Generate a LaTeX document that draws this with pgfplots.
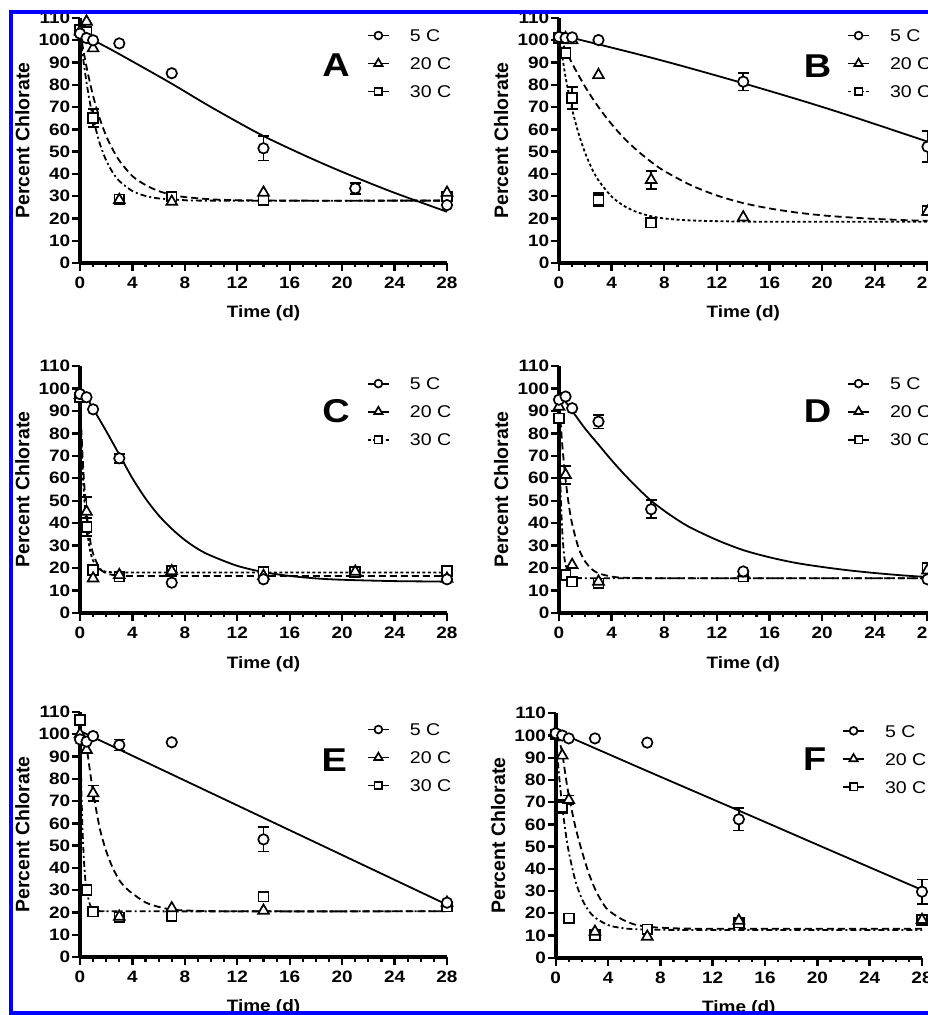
\documentclass[border=0pt]{standalone}
\usepackage{pgfplots}
\pgfplotsset{compat=1.18}
\usepackage{fontspec}
\setmainfont{Liberation Sans}
\newfontfamily\wide[FakeStretch=1.15]{Liberation Sans}
\definecolor{frameblue}{RGB}{0,0,255}

\newcommand\tickfont{\wide\bfseries\fontsize{16.5}{16.5}\selectfont}
\newcommand\xlabfont{\wide\bfseries\fontsize{16.5}{16.5}\selectfont}
\newcommand\ylabfont{\bfseries\fontsize{19.5}{19.5}\selectfont}
\newcommand\legfont{\wide\fontsize{17}{17}\selectfont}
\newcommand\letfont{\wide\bfseries\fontsize{33}{33}\selectfont}

\tikzset{
  c5/.style={black, line width=1.8pt, solid},
  c20/.style={black, line width=1.8pt, dash pattern=on 7pt off 4pt},
  c30dd/.style={black, line width=1.8pt, dash pattern=on 6pt off 3pt on 2pt off 3pt},
  c30dot/.style={black, line width=1.8pt, dash pattern=on 3pt off 2.5pt},
  mopt/.style={solid, line width=1.7pt, fill=white, draw=black},
  l5/.style={mark=*, mark size=5.2pt, mark options={mopt}},
  l20/.style={mark=triangle*, mark size=6.2pt, mark options={mopt}},
  l30/.style={mark=square*, mark size=4.9pt, mark options={mopt}},
  g5/.style={mark=*, mark size=3.9pt, mark options={mopt}},
  g20/.style={mark=triangle*, mark size=4.8pt, mark options={mopt}},
  g30/.style={mark=square*, mark size=3.8pt, mark options={mopt}},
}

\pgfplotsset{
  panel/.style={
    scale only axis, anchor=south west,
    xmin=0, xmax=28, ymin=0, ymax=110,
    axis lines=left, axis line style={line width=3.6pt, -},
    xtick={0,4,...,28}, minor xtick={1,...,27}, ytick={0,10,...,110},
    tick align=outside, major tick length=8pt, minor tick length=4.5pt,
    every major tick/.append style={line width=2.4pt, black},
    every minor tick/.append style={line width=2.2pt, black},
    /pgf/number format/assume math mode=true,
    tick label style={font=\tickfont},
    yticklabel style={inner xsep=1.5pt},
    xticklabel style={inner ysep=6pt},
    xlabel={Time (d)}, ylabel={Percent Chlorate},
    xlabel style={font=\xlabfont, at={(axis description cs:0.5,-0.207)}, anchor=center},
    ylabel style={font=\ylabfont, at={(axis description cs:-0.157,0.5)}, anchor=center},
    clip=false,
    legend cell align=left,
    legend style={draw=none, fill=none, inner sep=0pt, outer sep=0pt, font=\legfont,
      at={(axis description cs:0.782,0.958)}, anchor=north west,
      row sep=13.5pt, column sep=0pt,
      nodes={inner sep=1pt, text height=12.5pt, text depth=0pt}},
    legend image code/.code={
      \draw[##1, mark=none] (0pt,0pt) -- (10.5pt,0pt);
      \draw[##1, mark=none] (21pt,0pt) -- (10.5pt,0pt);
      \draw[##1] plot coordinates {(10.5pt,0pt)};
      \path[draw=none, fill=none] (0pt,0pt) -- (41pt,0pt);
    },
  },
  fit/.style={forget plot, smooth, tension=0.5},
  m5/.style={forget plot, only marks, l5},
  m20/.style={forget plot, only marks, l20},
  m30/.style={forget plot, only marks, l30},
  eb/.style={forget plot, only marks, mark=none, black,
    error bars/.cd, y dir=both, y explicit,
    error bar style={line width=1.7pt, black, solid},
    error mark options={rotate=90, line width=1.7pt, mark size=5.5pt, black, solid}},
}

\newcommand\leg[1]{%
  \addlegendimage{c5, g5}\addlegendentry{5 C}
  \addlegendimage{c20, g20}\addlegendentry{20 C}
  \addlegendimage{#1, g30}\addlegendentry{30 C}}

\begin{document}
\begin{tikzpicture}[x=1pt, y=1pt]
\useasboundingbox (0,0) rectangle (928,1015);
\begin{scope}
\clip (13,4) rectangle (935,1001);

% A
\begin{axis}[panel, at={(80pt,752pt)}, width=367pt, height=245pt]
\addplot[c20, fit] coordinates {(0,104) (0.5,88) (1,75) (1.5,65) (2,57) (2.5,51) (3,46) (4,39) (5,35) (6,32.3) (7,30.6) (8,29.6) (10,28.6) (12,28.2) (16,28) (28,28)};
\addplot[c30dd, fit] coordinates {(0,104) (0.25,91.5) (0.5,81) (0.75,72.3) (1,65) (1.5,53.8) (2,46) (2.5,40.6) (3,36.8) (4,32.3) (5,30.1) (6,29) (8,28.2) (10,28) (28,28)};
\addplot[c5, fit] coordinates {(0,103) (2,97) (4,90.5) (7,80.5) (10,70) (14,57) (18,46) (21,38.5) (24,31.5) (28,23)};
\addplot[eb] coordinates {(14,51.5) +- (0,5.5) (21,33.5) +- (0,2.5) (1,65) +- (0,4)};
\addplot[m30] coordinates {(0,104.6) (0.5,103.9) (1,65) (3,28.5) (7,29.8) (14,28.3) (28,29.8)};
\addplot[m20] coordinates {(0,104) (0.5,108.4) (1,96.4) (3,28.3) (7,27.5) (14,31.6) (28,31.6)};
\addplot[m5] coordinates {(0,103) (0.5,101) (1,100) (3,98.6) (7,85.2) (14,51.5) (21,33.5) (28,26)};
\leg{c30dd}
\node[font=\letfont, inner sep=0pt] at (axis description cs:0.698,0.808) {A};
\end{axis}

% B
\begin{axis}[panel, at={(559pt,752pt)}, width=368.5pt, height=245pt]
\addplot[c20, fit] coordinates {(0,102) (1,89.6) (2,79) (3,70) (4,62.3) (5,55.7) (6,50.2) (7,45.4) (8,41.3) (10,35) (12,30.3) (14,26.9) (16,24.5) (18,22.7) (20,21.4) (22,20.5) (24,19.8) (26,19.3) (28,18.9)};
\addplot[c30dot, fit] coordinates {(0,102) (0.5,83.5) (1,69) (1.5,57.9) (2,49.2) (2.5,42.4) (3,37.1) (4,29.8) (5,25.4) (6,22.7) (7,21) (8,20) (10,19.1) (14,18.6) (20,18.5) (28,18.5)};
\addplot[c5, fit] coordinates {(0,102.5) (4,96.7) (7,92.2) (10,87.4) (14,80.7) (18,73.7) (21,68.2) (24,62.4) (28,54.5)};
\addplot[eb] coordinates {(14,81.4) +- (0,4) (28,52.2) +- (0,7) (7,37.3) +- (0,4) (1,74) +- (0,5) (3,28.3) +- (0,3)};
\addplot[m30] coordinates {(0,101) (0.5,94.2) (1,74) (3,28.3) (7,18.1) (28,23.5)};
\addplot[m20] coordinates {(0,102) (0.5,101) (1,100) (3,84.4) (7,37.3) (14,20.5) (28,23)};
\addplot[m5] coordinates {(0,101.5) (0.5,101) (1,101.3) (3,100.1) (14,81.4) (28,52.2)};
\leg{c30dot}
\node[font=\letfont, inner sep=0pt] at (axis description cs:0.702,0.804) {B};
\end{axis}

% C
\begin{axis}[panel, at={(80pt,402pt)}, width=367pt, height=247pt]
\addplot[c20, fit] coordinates {(0,97) (0.1,81.8) (0.2,69.4) (0.3,59.4) (0.4,51.3) (0.5,44.7) (0.75,33.2) (1,26.4) (1.5,19.9) (2,17.7) (3,16.6) (5,16.5) (28,16.5)};
\addplot[c30dot, fit] coordinates {(0,97) (0.1,78.3) (0.2,64) (0.3,53.1) (0.4,44.8) (0.5,38.5) (0.75,28.4) (1,23.3) (1.5,19.4) (2,18.4) (3,18) (5,18) (28,18)};
\addplot[c5, fit] coordinates {(0,98) (0.5,96) (1,91) (2,81) (3,70.5) (4,60) (5,51) (6,43.5) (7,37.5) (8,32.5) (9,28.5) (10,25.5) (12,21) (14,18.2) (16,16.5) (18,15.4) (20,14.8) (24,14.2) (28,14)};
\addplot[eb] coordinates {(3,68.9) +- (0,2) (0.5,45.1) +- (0,6.5) (0.5,38.4) +- (0,4)};
\addplot[m30] coordinates {(0,96) (0.5,38.4) (1,19.2) (3,16.2) (7,18.8) (14,18.2) (21,18.2) (28,18.8)};
\addplot[m20] coordinates {(0,97) (0.5,45.1) (1,15.4) (3,16.9) (7,18.6) (14,16.5) (21,18.4) (28,15.3)};
\addplot[m5] coordinates {(0,97.5) (0.5,96.1) (1,90.7) (3,68.9) (7,13.5) (14,15) (28,15)};
\leg{c30dot}
\node[font=\letfont, inner sep=0pt] at (axis description cs:0.698,0.816) {C};
\end{axis}

% D
\begin{axis}[panel, at={(559pt,402pt)}, width=368.5pt, height=247pt]
\addplot[c20, fit] coordinates {(0,95.5) (0.25,74.8) (0.5,59.4) (0.75,48) (1,39.6) (1.5,28.7) (2,22.8) (2.5,19.5) (3,17.7) (4,16.2) (5,15.7) (8,15.5) (28,15.5)};
\addplot[c30dd, fit] coordinates {(0,87.5) (0.1,59.2) (0.2,42) (0.3,31.6) (0.4,25.2) (0.5,21.4) (0.75,17.2) (1,16) (1.5,15.6) (4,15.5) (28,15.5)};
\addplot[c5, fit] coordinates {(0,97) (0.5,94) (1,90) (2,82) (3,75) (4,68) (5,61.5) (6,55.5) (7,50) (8,45.5) (9,41.5) (10,38) (12,32.5) (14,28) (16,24.8) (18,22.3) (20,20.5) (22,19) (24,17.8) (26,16.8) (28,16)};
\addplot[eb] coordinates {(3,85.2) +- (0,3) (7,46.2) +- (0,4) (0.5,61.5) +- (0,4)};
\addplot[m30] coordinates {(0,86.7) (0.5,17) (1,14) (3,13.2) (14,16.2) (28,20)};
\addplot[m20] coordinates {(0,91.9) (0.5,61.5) (1,21.4) (3,14) (14,17.6) (28,19)};
\addplot[m5] coordinates {(0,95) (0.5,96.4) (1,91.2) (3,85.2) (7,46.2) (14,18.5) (28,15)};
\leg{c30dd}
\node[font=\letfont, inner sep=0pt] at (axis description cs:0.702,0.816) {D};
\end{axis}

% E
\begin{axis}[panel, at={(80pt,58pt)}, width=367pt, height=245pt]
\addplot[c20, fit] coordinates {(0,101) (0.25,98.5) (0.5,94) (0.75,84) (1,74) (1.5,58) (2,47.5) (2.5,40) (3,34.5) (3.5,31) (4,28.5) (5,24.5) (6,22.5) (7,21.3) (8,20.9) (10,20.6) (14,20.5) (28,20.5)};
\addplot[c30dd, fit] coordinates {(0,106) (0.1,75.9) (0.2,56.2) (0.3,43.5) (0.4,35.3) (0.5,30) (0.75,23.7) (1,21.6) (1.5,20.6) (4,20.5) (28,20.5)};
\addplot[c5, fit] coordinates {(0,101.5) (7,82) (14,62.5) (21,43) (28,23.5)};
\addplot[eb] coordinates {(3,95.2) +- (0,2.5) (14,52.8) +- (0,5.5) (1,73.5) +- (0,3.5) (0.5,30.1) +- (0,2.5) (14,27.1) +- (0,2)};
\addplot[m30] coordinates {(0,106.4) (0.5,30.1) (1,20.4) (3,17.8) (7,18.4) (14,27.1) (28,22.6)};
\addplot[m20] coordinates {(0,100) (0.5,93) (1,73.5) (3,18.1) (7,21.9) (14,20.8) (28,24.4)};
\addplot[m5] coordinates {(0,97.7) (0.5,96.7) (1,99.2) (3,95.2) (7,96.4) (14,52.8) (28,24.4)};
\leg{c30dd}
\node[font=\letfont, inner sep=0pt] at (axis description cs:0.693,0.804) {E};
\end{axis}

% F
\begin{axis}[panel, at={(555.7pt,57.3pt)}, width=366.3pt, height=244.4pt]
\addplot[c20, fit] coordinates {(0,100) (0.25,98) (0.5,92) (0.75,82) (1,73) (1.5,59) (2,48) (2.5,38.5) (3,31) (3.5,25.5) (4,21.5) (5,17.5) (6,15) (7,14) (8,13.5) (10,13.1) (14,13) (28,13)};
\addplot[c30dd, fit] coordinates {(0,100.5) (0.25,82.5) (0.5,68) (0.75,56.7) (1,47.6) (1.5,34.7) (2,26.5) (2.5,21.3) (3,18.1) (4,14.7) (5,13.4) (6,12.85) (8,12.56) (12,12.5) (28,12.5)};
\addplot[c5, fit] coordinates {(0,102) (7,84) (14,66.2) (21,48.3) (28,30.5)};
\addplot[eb] coordinates {(14,62.3) +- (0,5) (28,29.7) +- (0,5.5) (1,71) +- (0,2) (0.5,68) +- (0,3)};
\addplot[m30] coordinates {(0,100.5) (0.5,68) (1,17.7) (3,10.2) (7,12.8) (14,15.8) (28,17)};
\addplot[m20] coordinates {(0,101.5) (0.5,91) (1,71) (3,11.7) (7,9.5) (14,16.7) (28,17)};
\addplot[m5] coordinates {(0,101) (0.5,100) (1,98.7) (3,98.7) (7,96.8) (14,62.3) (28,29.7)};
\leg{c30dd}
\node[font=\letfont, inner sep=0pt] at (axis description cs:0.707,0.814) {F};
\end{axis}
\end{scope}

\draw[frameblue, line width=4pt] (940,1003) -- (11,1003) -- (11,2) -- (940,2);
\end{tikzpicture}
\end{document}
